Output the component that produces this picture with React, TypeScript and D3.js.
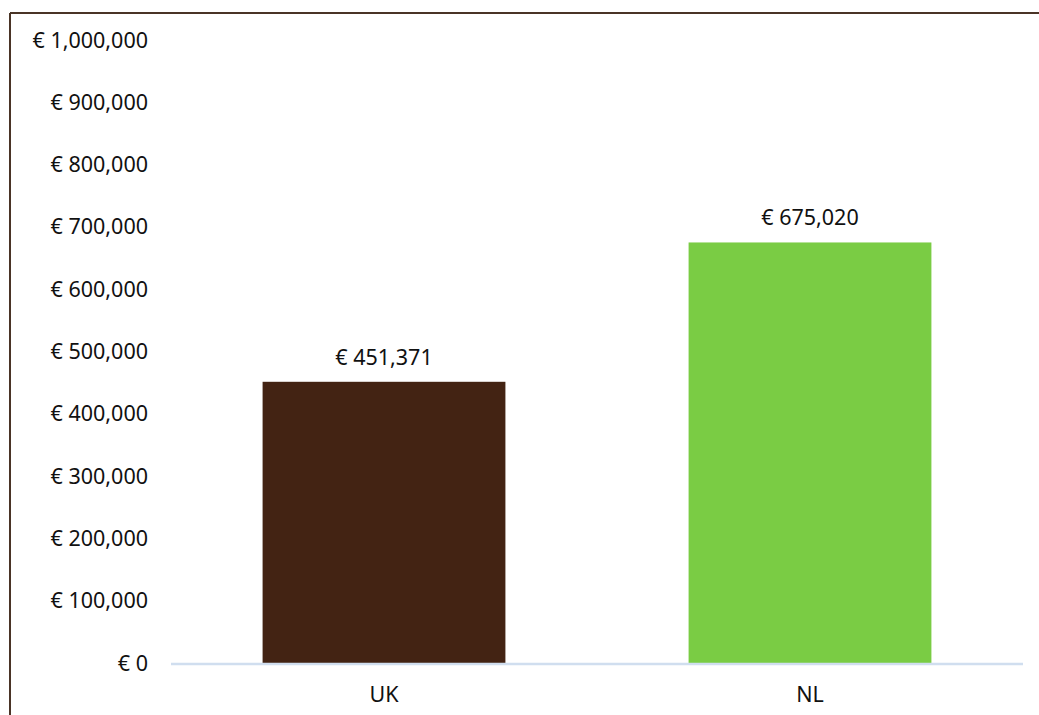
import React from "react";
import * as d3 from "d3";

const categories = ["UK", "NL"];
const values = [451371, 675020];
const colors = ["#432313", "#7ACC44"];
const yTicks = [0, 100000, 200000, 300000, 400000, 500000, 600000, 700000, 800000, 900000, 1000000];

const W = 1039;
const H = 715;
const margin = { left: 171, right: 16, top: 40, bottom: 52 };

export default function App() {
  const x = d3
    .scaleBand<string>()
    .domain(categories)
    .range([margin.left, W - margin.right])
    .paddingInner(0.43)
    .paddingOuter(0.215);
  const y = d3.scaleLinear().domain([0, 1000000]).range([H - margin.bottom, margin.top]);
  const fmt = (v: number) => "€ " + d3.format(",")(v);
  const font = "'Noto Sans', sans-serif";
  const band = d3.scaleBand<string>().domain(categories).range([margin.left, W - margin.right]);

  return (
    <svg
      width={W}
      height={H}
      style={{ position: "absolute", left: 0, top: 0, background: "#fff" }}
      fontFamily={font}
    >
      <line x1={10} x2={W} y1={13} y2={13} stroke="#4a3426" strokeWidth={2} />
      <line x1={10} x2={10} y1={13} y2={H} stroke="#4a3426" strokeWidth={2} />
      {yTicks.map((t) => (
        <text
          key={t}
          x={148}
          y={y(t)}
          dy="0.35em"
          textAnchor="end"
          fontSize={21.5}
          fill="#111"
        >
          {fmt(t)}
        </text>
      ))}
      {categories.map((c, i) => (
        <g key={c}>
          <rect
            x={x(c)}
            y={y(values[i])}
            width={x.bandwidth()}
            height={y(0) - y(values[i])}
            fill={colors[i]}
          />
          <text
            x={(x(c) as number) + x.bandwidth() / 2}
            y={y(values[i]) - 17}
            textAnchor="middle"
            fontSize={21.5}
            fill="#111"
          >
            {fmt(values[i])}
          </text>
          <text
            x={(band(c) as number) + band.bandwidth() / 2}
            y={y(0) + 31}
            dy="0.35em"
            textAnchor="middle"
            fontSize={21.5}
            fill="#111"
          >
            {c}
          </text>
        </g>
      ))}
      <line
        x1={margin.left}
        x2={W - margin.right}
        y1={y(0) + 1}
        y2={y(0) + 1}
        stroke="#D0DEEF"
        strokeWidth={2.5}
      />
    </svg>
  );
}
